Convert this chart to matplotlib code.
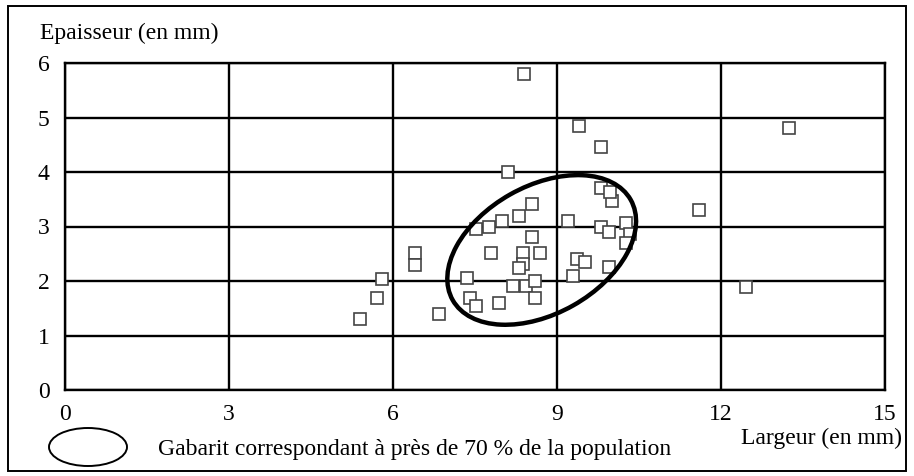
import matplotlib
matplotlib.use("Agg")
import matplotlib.pyplot as plt
from matplotlib.patches import Ellipse, Rectangle

plt.rcParams['font.family'] = ['Liberation Serif', 'DejaVu Serif']

# largeur (mm) / epaisseur (mm)
largeur = [8.40, 9.40, 9.80, 8.10, 13.25, 11.60, 12.45,
           8.55, 8.30, 8.00, 7.76, 7.51, 8.55, 7.80, 8.38, 8.69,
           8.38, 8.30, 7.35, 8.20, 8.43, 8.60, 8.60, 7.40, 7.51, 7.94, 6.85,
           5.40, 5.70, 5.80, 6.40, 6.40,
           9.21, 9.80, 9.96, 10.27, 10.33, 10.27, 9.36, 9.51, 9.95, 9.30,
           10.00, 9.80, 9.97]
epaisseur = [5.80, 4.85, 4.45, 4.00, 4.80, 3.30, 1.89,
             3.41, 3.20, 3.10, 3.00, 2.95, 2.80, 2.51, 2.51, 2.51,
             2.32, 2.23, 2.05, 1.90, 1.90, 2.00, 1.69, 1.69, 1.54, 1.60, 1.39,
             1.30, 1.69, 2.04, 2.51, 2.29,
             3.10, 3.00, 2.89, 3.06, 2.87, 2.69, 2.40, 2.35, 2.26, 2.10,
             3.46, 3.70, 3.64]

# gabarit (~70 % of the population)
gab_centre = (8.72, 2.57)
gab_width, gab_height, gab_angle = 3.74, 2.34, 29.5

xticks = [0, 3, 6, 9, 12, 15]
yticks = [0, 1, 2, 3, 4, 5, 6]

fig = plt.figure(figsize=(9.14, 4.76), dpi=100)
ax = fig.add_axes([65/914, 86/476, 820/914, 327/476])

ax.plot(largeur, epaisseur, 's', ms=9, mfc='white', mec='#444444', mew=1.2,
        zorder=3)
ax.add_patch(Ellipse(gab_centre, gab_width, gab_height, angle=gab_angle,
                     fill=False, ec='black', lw=3.2, zorder=4))

ax.set_xlim(0, 15)
ax.set_ylim(0, 6)
ax.set_xticks(xticks)
ax.set_yticks(yticks)
ax.grid(True, color='black', lw=1.7)
ax.set_axisbelow(True)
ax.tick_params(length=0, labelsize=17)
ax.tick_params(axis='x', pad=10)
ax.tick_params(axis='y', pad=11)
for s in ax.spines.values():
    s.set_linewidth(1.7)

fig.text(40/914, 1 - 33/476, "Epaisseur (en mm)", fontsize=17, va='center')
fig.text(902/914, 1 - 438/476, "Largeur (en mm)", fontsize=17,
         va='center', ha='right')

# legend
fig.patches.append(Ellipse((88/914, 1 - 447/476), 78/914, 38/476,
                           transform=fig.transFigure, fill=False,
                           ec='black', lw=1.4))
fig.text(158/914, 1 - 450/476,
         "Gabarit correspondant à près de 70 % de la population",
         fontsize=17, va='center')

# outer frame
fig.patches.append(Rectangle((8/914, 5/476), 898/914, 465/476,
                             transform=fig.transFigure, fill=False,
                             ec='black', lw=1.4))

fig.savefig("out.png", dpi=100)
